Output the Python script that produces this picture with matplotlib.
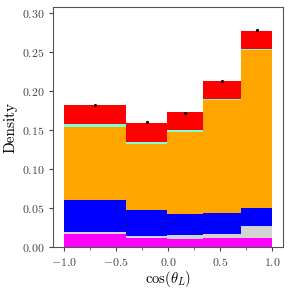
import matplotlib
matplotlib.use("Agg")
import matplotlib.pyplot as plt
import numpy as np

plt.rcParams['font.family'] = 'serif'
plt.rcParams['font.serif'] = ['cmr10', 'DejaVu Serif']
plt.rcParams['mathtext.fontset'] = 'cm'
plt.rcParams['axes.formatter.use_mathtext'] = True
plt.rcParams['axes.unicode_minus'] = True

# bin edges in cos(theta_L)
edges = [-1.0, -0.4, -0.01, 0.34, 0.7, 1.0]

# stacked components (bottom to top)
magenta = [0.0163, 0.0120, 0.0105, 0.0110, 0.0110]
gray = [0.0033, 0.0025, 0.0045, 0.0053, 0.0160]
blue = [0.0404, 0.0329, 0.0270, 0.0267, 0.0234]
orange = [0.0935, 0.0842, 0.1050, 0.1450, 0.2013]
cyan = [0.0035, 0.0024, 0.0025, 0.0020, 0.0021]
red = [0.0254, 0.0245, 0.0231, 0.0228, 0.0231]

data = [0.1822, 0.1600, 0.1712, 0.2122, 0.2775]
data_err = [0.0012, 0.0012, 0.0012, 0.0012, 0.0012]

comps = [magenta, gray, blue, orange, cyan, red]
colors = ['magenta', 'lightgray', 'blue', 'orange', 'aquamarine', 'red']

edges = np.array(edges)
widths = np.diff(edges)
centers = edges[:-1] + widths / 2

fig = plt.figure(figsize=(2.91, 2.91), dpi=100)
ax = fig.add_axes([0.183, 0.151, 0.788, 0.824])

bottom = np.zeros(len(widths))
for vals, c in zip(comps, colors):
    ax.bar(edges[:-1], vals, width=widths, bottom=bottom, align='edge',
           color=c, linewidth=0)
    bottom = bottom + np.array(vals)

ax.errorbar(centers, data, yerr=data_err, fmt='o', color='black',
            markersize=1.3, elinewidth=0.7, capsize=0)

ax.set_xlim(-1.1, 1.1)
ax.set_ylim(0, 0.307)
ax.set_xticks([-1.0, -0.5, 0.0, 0.5, 1.0])
ax.set_xticks(np.arange(-1.0, 1.01, 0.25), minor=True)
ax.set_yticks([0.0, 0.05, 0.10, 0.15, 0.20, 0.25, 0.30])
ax.xaxis.set_major_formatter(matplotlib.ticker.FormatStrFormatter('$%.1f$'))
ax.yaxis.set_major_formatter(matplotlib.ticker.FormatStrFormatter('$%.2f$'))

for s in ax.spines.values():
    s.set_color('#555555')
ax.tick_params(labelsize=8.5, colors='#444444', length=3)
ax.tick_params(which='minor', length=2, color='#555555')

ax.set_xlabel(r'$\cos(\theta_L)$', fontsize=10.5, labelpad=1)
ax.set_ylabel('Density', fontsize=11, labelpad=3)

fig.savefig('out.png', dpi=100)
